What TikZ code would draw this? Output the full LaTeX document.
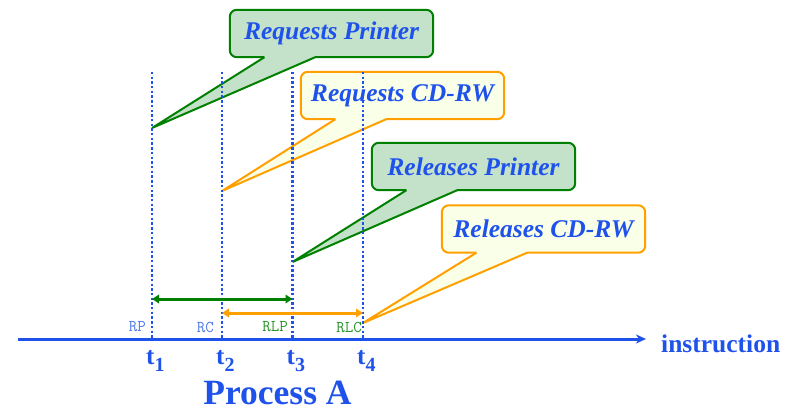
\documentclass[tikz,border=0pt]{standalone}
\usepackage{fontspec}
\setmainfont{Liberation Serif}
\usetikzlibrary{calc,arrows.meta}

\definecolor{tblue}{RGB}{31,82,235}
\definecolor{lblue}{RGB}{80,120,230}
\definecolor{dgreen}{RGB}{0,128,0}
\definecolor{lgreen}{RGB}{40,145,40}
\definecolor{gfill}{RGB}{196,225,201}
\definecolor{ocolor}{RGB}{255,160,0}
\definecolor{ofill}{RGB}{250,255,232}

\tikzset{
  boxlabel/.style={minimum width=203pt, minimum height=47pt, inner sep=0pt,
    text=tblue, font=\fontsize{25.5}{28}\selectfont\bfseries\itshape},
  timeline/.style={tblue, line width=2.8pt, dash pattern=on 2.4pt off 2.3pt},
  ticklabel/.style={font=\fontsize{16.5}{17}\selectfont\ttfamily, inner sep=0pt},
  tlabel/.style={text=tblue, font=\fontsize{25}{28}\selectfont\bfseries, inner sep=0pt},
  span/.style={line width=3pt, {Triangle[length=7pt,width=8.5pt]}-{Triangle[length=7pt,width=8.5pt]}}
}

% callout: #1 node name, #2 border colour, #3 fill colour, #4 pointer tip
\newcommand{\bubble}[4]{%
  \coordinate (#1-pl) at ($(#1.south west)!0.17!(#1.south east)$);
  \coordinate (#1-pr) at ($(#1.south west)!0.42!(#1.south east)$);
  \fill[#3, rounded corners=7pt] (#1.south west) rectangle (#1.north east);
  \fill[#3] (#1-pl) -- (#4) -- (#1-pr) -- cycle;
  \draw[#2, line width=2pt, rounded corners=7pt]
    (#1-pr) -- (#1.south east) -- (#1.north east) -- (#1.north west)
    -- (#1.south west) -- (#1-pl);
  \draw[#2, line width=2pt, line join=miter] (#1-pl) -- (#4) -- (#1-pr);
}
% time label with a lowered index
\newcommand{\tmark}[1]{t\raisebox{-7pt}{\fontsize{20}{20}\selectfont #1}}

\begin{document}
\begin{tikzpicture}[x=1pt,y=-1pt]
\useasboundingbox (0,0) rectangle (800,409);

% time marks on the instruction axis
\coordinate (a1) at (152,72);  \coordinate (b1) at (152,338);
\coordinate (a2) at (222,72);  \coordinate (b2) at (222,338);
\coordinate (a3) at (292.5,72);\coordinate (b3) at (292.5,338);
\coordinate (a4) at (363,72);  \coordinate (b4) at (363,338);

% pointer tips
\coordinate (p1) at (152,128);
\coordinate (p2) at (222,191);
\coordinate (p3) at (292.5,262);
\coordinate (p4) at (363,323);

% callout boxes
\node[boxlabel] (rp)  at (331.5,33.5) {};
\node[boxlabel] (rc)  at (402.5,95.5) {};
\node[boxlabel] (rlp) at (473.5,166.5) {};
\node[boxlabel] (rlc) at (543.5,229) {};

\bubble{rp}{dgreen}{gfill}{p1}
\bubble{rc}{ocolor}{ofill}{p2}
\bubble{rlp}{dgreen}{gfill}{p3}
\bubble{rlc}{ocolor}{ofill}{p4}

\node[boxlabel] at (rp)  {Requests Printer};
\node[boxlabel] at (rc)  {Requests CD-RW};
\node[boxlabel] at (rlp) {Releases Printer};
\node[boxlabel] at (rlc) {Releases CD-RW};

% dotted time lines
\draw[timeline] (a1) -- (b1);
\draw[timeline] (a2) -- (b2);
\draw[timeline] (a3) -- (b3);
\draw[timeline] (a4) -- (b4);

% holding intervals
\coordinate (g1) at (152,299);  \coordinate (g2) at (292.5,299);
\coordinate (o1) at (222,313);  \coordinate (o2) at (363,313);
\draw[span, dgreen] (g1) -- (g2);
\draw[span, ocolor] (o1) -- (o2);

% axis
\coordinate (ax0) at (18,339);
\coordinate (ax1) at (646,339);
\draw[tblue, line width=3pt, -{Stealth[length=10pt,width=9pt,inset=3pt]}] (ax0) -- (ax1);
\node[text=tblue, font=\fontsize{25.5}{28}\selectfont\bfseries, anchor=base west, inner sep=0pt]
  (instr) at (661,352) {instruction};

% event codes
\node[ticklabel, text=lblue, anchor=east] (l1) at (146,327) {RP};
\node[ticklabel, text=lblue, anchor=east] (l2) at (214,327) {RC};
\node[ticklabel, text=lgreen, anchor=east] (l3) at (288,327) {RLP};
\node[ticklabel, text=lgreen, anchor=east] (l4) at (362,327) {RLC};

% time labels
\node[tlabel, anchor=base west] (t1) at (146,364) {\tmark{1}};
\node[tlabel, anchor=base west] (t2) at (216,364) {\tmark{2}};
\node[tlabel, anchor=base west] (t3) at (286.5,364) {\tmark{3}};
\node[tlabel, anchor=base west] (t4) at (357,364) {\tmark{4}};

\node[text=tblue, font=\fontsize{35.5}{38}\selectfont\bfseries, anchor=base, inner sep=0pt, text depth=0pt]
  (proc) at (277.5,404) {Process A};
\end{tikzpicture}
\end{document}
